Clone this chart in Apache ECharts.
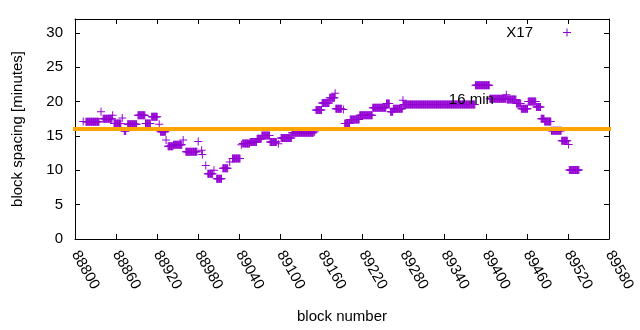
<!DOCTYPE html>
<html>
<head>
<meta charset="utf-8">
<script src="https://cdn.jsdelivr.net/npm/echarts@6/dist/echarts.min.js"></script>
<style>
html,body{margin:0;padding:0;background:#fff;}
#chart{width:640px;height:330px;}
</style>
</head>
<body>
<div id="chart"></div>
<script>
// Step runs: block range [start, end] and block spacing (minutes)
var runStart = [88812,88816,88838,88841,88855,88857,88869,88872,88877,88892,88903,88912,88923,88925,88933,88936,88944,88958,88962,88980,88985,88986,88991,88994,89003,89007,89016,89026,89030,89043,89045,89056,89066,89073,89085,89097,89101,89117,89150,89152,89161,89172,89180,89181,89192,89194,89202,89216,89235,89255,89261,89265,89279,89280,89385,89406,89430,89431,89445,89452,89462,89474,89481,89486,89496,89511,89521,89522];
var runEnd   = [88812,88835,88838,88854,88855,88867,88869,88874,88890,88902,88910,88920,88923,88932,88933,88943,88956,88958,88978,88980,88985,88986,88991,89001,89003,89014,89023,89026,89041,89043,89055,89065,89072,89084,89094,89097,89116,89148,89150,89160,89171,89179,89180,89189,89192,89201,89215,89234,89254,89259,89264,89278,89279,89384,89405,89429,89430,89444,89451,89461,89473,89480,89485,89495,89510,89519,89521,89536];
var runValue = [17.1,17.05,18.5,17.5,18.0,16.8,17.6,15.7,16.7,18.0,16.8,17.8,16.7,15.6,14.4,13.5,13.7,14.4,12.7,14.2,12.9,12.3,10.7,9.5,10.0,8.75,10.3,11.2,11.7,13.7,13.9,14.1,14.6,15.05,14.1,13.85,14.7,15.45,15.6,18.75,19.8,20.55,21.2,18.95,18.85,16.8,17.4,18.0,19.1,19.7,18.5,18.95,20.2,19.55,22.35,20.4,21.0,20.3,19.7,18.95,20.0,19.2,17.5,17.1,15.75,14.3,13.75,10.05];

var seriesName = 'X17';
var targetMinutes = 16;
var targetLabel = '16 min';
var targetLabelPos = [89346, 20.3];

var xMin = 88800, xMax = 89580, xStep = 60;
var yMin = 0, yMax = 32, yStep = 5;

var xName = 'block number';
var yName = 'block spacing [minutes]';

// one point per block inside each run
var points = [];
for (var i = 0; i < runStart.length; i++) {
  for (var b = runStart[i]; b <= runEnd[i]; b++) {
    points.push([b, runValue[i]]);
  }
}

var plusPath = 'path://M7,0h2v7h7v2h-7v7h-2v-7h-7v-2h7z';
var FONT = 'Liberation Sans';
var FS = 15;

var chart = echarts.init(document.getElementById('chart'), null, {renderer: 'canvas'});
chart.setOption({
  animation: false,
  backgroundColor: '#ffffff',
  textStyle: {fontFamily: FONT},
  grid: {left: 75, right: 31, top: 19, bottom: 91, containLabel: false, outerBoundsMode: 'none'},
  legend: {
    data: [{name: seriesName, icon: plusPath}],
    align: 'right',
    right: 64,
    top: 20,
    itemWidth: 8,
    itemHeight: 8,
    itemGap: 0,
    textStyle: {fontFamily: FONT, fontSize: FS, color: '#000', padding: [0, 25, 0, 0]},
    selectedMode: false
  },
  xAxis: [{
    type: 'value', min: xMin, max: xMax, interval: xStep,
    name: xName, nameLocation: 'middle', nameGap: 70,
    nameTextStyle: {fontFamily: FONT, fontSize: FS, color: '#000'},
    axisLine: {show: true, onZero: false, lineStyle: {color: '#000', width: 1}},
    axisTick: {show: true, inside: true, length: 5, lineStyle: {color: '#000'}},
    axisLabel: {rotate: -60, margin: 13, fontFamily: FONT, fontSize: FS, color: '#000',
      formatter: function (v) { return String(v); }},
    splitLine: {show: false}
  }, {
    type: 'value', min: xMin, max: xMax, interval: xStep, position: 'top',
    axisLine: {show: true, onZero: false, lineStyle: {color: '#000', width: 1}},
    axisTick: {show: true, inside: true, length: 5, lineStyle: {color: '#000'}},
    axisLabel: {show: false},
    splitLine: {show: false}
  }],
  yAxis: [{
    type: 'value', min: yMin, max: yMax, interval: yStep,
    name: yName, nameLocation: 'middle', nameGap: 50,
    nameTextStyle: {fontFamily: FONT, fontSize: FS, color: '#000'},
    axisLine: {show: true, onZero: false, lineStyle: {color: '#000', width: 1}},
    axisTick: {show: true, inside: true, length: 5, lineStyle: {color: '#000'}},
    axisLabel: {margin: 12, fontFamily: FONT, fontSize: FS, color: '#000', showMaxLabel: false},
    splitLine: {show: false}
  }, {
    type: 'value', min: yMin, max: yMax, interval: yStep, position: 'right',
    axisLine: {show: true, onZero: false, lineStyle: {color: '#000', width: 1}},
    axisTick: {show: true, inside: true, length: 5, lineStyle: {color: '#000'}},
    axisLabel: {show: false},
    splitLine: {show: false}
  }],
  series: [{
    name: seriesName,
    type: 'scatter',
    symbol: plusPath,
    symbolSize: 8,
    large: false,
    progressive: 0,
    itemStyle: {color: '#9400d3', opacity: 1},
    data: points,
    z: 2
  }, {
    name: 'target',
    type: 'line',
    data: [[xMin, targetMinutes], [xMax, targetMinutes]],
    symbol: 'none',
    clip: false,
    lineStyle: {color: '#ffa500', width: 4, cap: 'square'},
    z: 3,
    markPoint: {
      symbol: 'circle', symbolSize: 0,
      data: [{coord: targetLabelPos}],
      label: {show: true, position: 'right', distance: 0, formatter: targetLabel,
        fontFamily: FONT, fontSize: FS, color: '#000'}
    }
  }]
});
</script>
</body>
</html>
